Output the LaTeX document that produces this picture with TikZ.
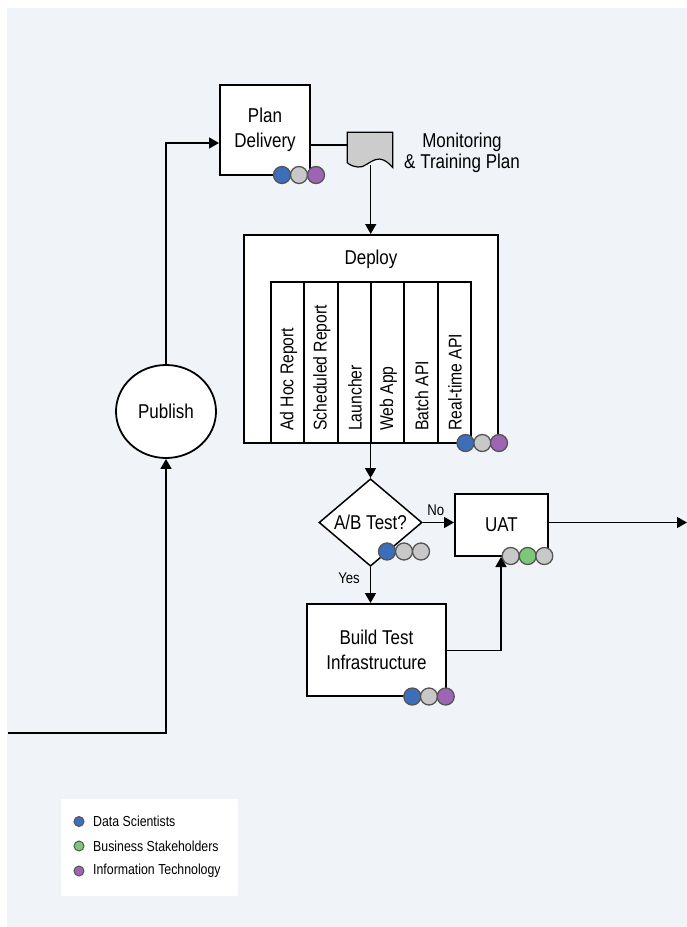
\documentclass[tikz,border=0pt]{standalone}
\usepackage{fontspec}
\setmainfont{Liberation Sans}[FakeStretch=0.85]
\usetikzlibrary{arrows.meta,shapes.geometric}
\definecolor{bgc}{HTML}{F0F3F7}
\definecolor{dsblue}{HTML}{3D6EB9}
\definecolor{bsgreen}{HTML}{7DC878}
\definecolor{itpurple}{HTML}{9E65B5}
\definecolor{neutral}{HTML}{C8C8C8}
\definecolor{ring}{HTML}{555555}
\definecolor{docgray}{HTML}{CCCCCC}
\tikzset{
  box/.style={draw=black, fill=white, line width=2pt, inner sep=0pt, align=center,
    font=\fontsize{20}{25}\selectfont},
  col/.style={draw=black, fill=white, line width=2pt, inner sep=0pt,
    minimum width=33.3pt, minimum height=161pt},
  coltext/.style={rotate=90, anchor=west, inner sep=0pt, font=\fontsize{18.5}{20}\selectfont},
  conn/.style={line width=1.5pt, draw=black},
  arr/.style={conn, -{Triangle[length=10pt,width=11pt]}},
  dot/.style={circle, draw=ring, line width=1.3pt, minimum size=17pt, inner sep=0pt},
  ldot/.style={circle, draw=ring, line width=1pt, minimum size=10pt, inner sep=0pt},
  lbl/.style={inner sep=0pt, font=\fontsize{15.5}{18}\selectfont},
  legtext/.style={anchor=west, inner sep=0pt, font=\fontsize{14.5}{17}\selectfont}
}
\begin{document}
\begin{tikzpicture}[x=1pt,y=-1pt]
\useasboundingbox (0,0) rectangle (687,927);
\fill[bgc] (7,8) rectangle (687,927);
\fill[white] (61,799) rectangle (238,896);

% Plan Delivery
\node[box, minimum width=90pt, minimum height=90pt] (plan) at (265,130) {Plan\\Delivery};
\node[dot, fill=dsblue] (p1) at (282,175) {};
\node[dot, fill=neutral] (p2) at (299,175) {};
\node[dot, fill=itpurple] (p3) at (316,175) {};

% Document
\coordinate (docW) at (347.3,145);
\coordinate (docS) at (370.7,165);
\draw[fill=docgray, line width=1.2pt] (347.3,132.3) -- (392.7,132.3) -- (392.7,167.5)
  .. controls (386,160) and (381,158) .. (376,159.5)
  .. controls (368,162) and (364,168) .. (358,167)
  .. controls (353,166.5) and (349,164.5) .. (347.3,162.7) -- cycle;
\node[align=center, inner sep=0pt, font=\fontsize{20}{20.5}\selectfont] (doclbl) at (462,153) {Monitoring\\\& Training Plan};
\draw[conn] (plan.east |- docW) -- (docW);

% Deploy
\node[box, minimum width=254pt, minimum height=208pt] (deploy) at (371,339) {};
\node[inner sep=0pt, font=\fontsize{20}{25}\selectfont] (deploylbl) at (371,259) {Deploy};
\node[col] (c1) at (287.65,362.5) {};
\node[col] (c2) at (320.95,362.5) {};
\node[col] (c3) at (354.25,362.5) {};
\node[col] (c4) at (387.55,362.5) {};
\node[col] (c5) at (420.85,362.5) {};
\node[col] (c6) at (454.15,362.5) {};
\node[coltext] (t1) at (288.5,431) {Ad Hoc Report};
\node[coltext] (t2) at (321.8,431) {Scheduled Report};
\node[coltext] (t3) at (355.1,431) {Launcher};
\node[coltext] (t4) at (388.4,431) {Web App};
\node[coltext] (t5) at (421.7,431) {Batch API};
\node[coltext] (t6) at (455,431) {Real-time API};
\node[dot, fill=dsblue] (d1) at (465.5,443) {};
\node[dot, fill=neutral] (d2) at (482.3,443) {};
\node[dot, fill=itpurple] (d3) at (499,443) {};
\draw[arr] (docS) -- (deploy.north -| docS);

% Diamond
\node[diamond, draw=black, fill=white, line width=1.5pt, inner sep=0pt,
  minimum width=103pt, minimum height=87pt, font=\fontsize{20}{25}\selectfont] (ab) at (370.5,522.5) {A/B Test?};
\node[dot, fill=dsblue] (a1) at (387,551.5) {};
\node[dot, fill=neutral] (a2) at (404,551.5) {};
\node[dot, fill=neutral] (a3) at (421,551.5) {};
\draw[arr] (deploy.south -| ab.north) -- (ab.north);

% UAT
\node[box, minimum width=93pt, minimum height=62pt] (uat) at (501.5,525) {UAT};
\node[dot, fill=neutral] (u1) at (510.7,556) {};
\node[dot, fill=bsgreen] (u2) at (527.7,556) {};
\node[dot, fill=neutral] (u3) at (544.3,556) {};
\draw[arr] (ab.east) -- (uat.west |- ab.east) node[lbl, pos=0.42, above=6pt] (nolbl) {No};
\coordinate (outR) at (687,522.5);
\draw[arr] (uat.east |- outR) -- (outR);

% Build Test
\node[box, minimum width=138.5pt, minimum height=92pt] (build) at (376.5,650) {Build Test\\Infrastructure};
\node[dot, fill=dsblue] (b1) at (412.3,696.5) {};
\node[dot, fill=neutral] (b2) at (429,696.5) {};
\node[dot, fill=itpurple] (b3) at (445.7,696.5) {};
\draw[arr] (ab.south) -- (build.north -| ab.south) node[lbl, pos=0.3, left=10pt] (yeslbl) {Yes};
\coordinate (bt) at (501,650.7);
\draw[arr] (build.east |- bt) -| (uat.south -| bt);

% Publish
\node[ellipse, draw=black, fill=white, line width=1.8pt, inner sep=0pt,
  minimum width=100pt, minimum height=93pt, font=\fontsize{20}{25}\selectfont] (pub) at (166,411.5) {Publish};
\coordinate (inL) at (8,733);
\draw[arr] (inL) -| (pub.south);
\draw[arr] (pub.north) |- (plan.west |- 0,143);

% Legend
\node[ldot, fill=dsblue] (l1) at (79,821.5) {};
\node[ldot, fill=bsgreen] (l2) at (79,846) {};
\node[ldot, fill=itpurple] (l3) at (79,871) {};
\node[legtext] (lt1) at (93,821.5) {Data Scientists};
\node[legtext] (lt2) at (93,846) {Business Stakeholders};
\node[legtext] (lt3) at (93,871) {Information Technology};
\end{tikzpicture}
\end{document}
